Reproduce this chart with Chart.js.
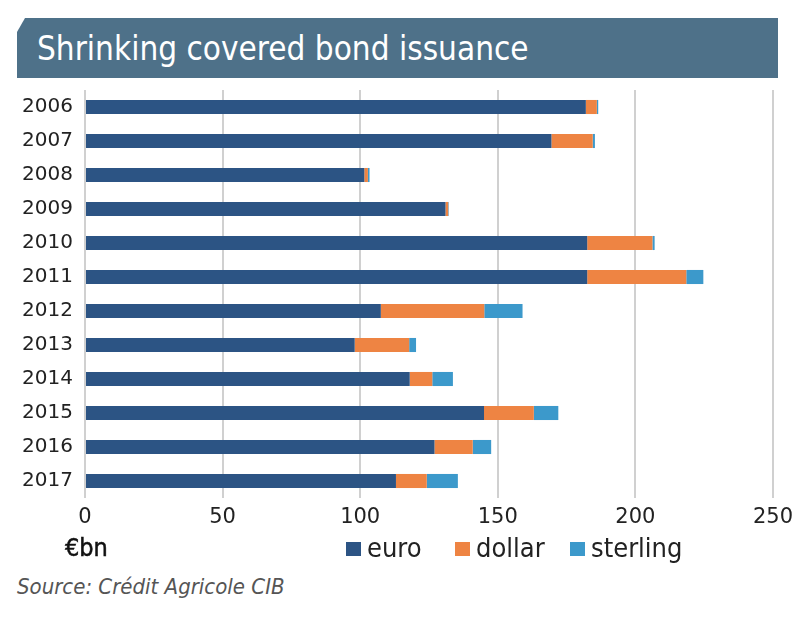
<!DOCTYPE html>
<html>
<head>
<meta charset="utf-8">
<script src="https://cdn.jsdelivr.net/npm/chart.js@4"></script>
<style>
  html, body { margin: 0; padding: 0; background: #fff; }
  body { width: 800px; height: 626px; position: relative; overflow: hidden;
         font-family: 'DejaVu Sans Condensed', 'DejaVu Sans', sans-serif; color: #222; }
  .banner { position: absolute; left: 17px; top: 18px; width: 761px; height: 60px; background: #4e7189;
            clip-path: polygon(8px 0, 100% 0, 100% 100%, 0 100%, 0 14px); }
  .banner span { position: absolute; left: 20px; top: 11px; color: #fff; font-size: 33px; }
  .wrap { position: absolute; left: 0; top: 65px; width: 800px; height: 470px; }
  .unit { position: absolute; left: 65px; top: 533px; font-size: 25px; color: #111; -webkit-text-stroke: 0.5px #111; }
  .legend { position: absolute; top: 532px; font-size: 27px; color: #222; }
  .legend i { display: inline-block; width: 15px; height: 14px; margin-right: 6px; vertical-align: 1px; }
  .src { position: absolute; left: 17px; top: 574px; font-size: 22px; font-style: italic; color: #555; }
</style>
</head>
<body>
<div class="banner"><span>Shrinking covered bond issuance</span></div>
<div class="wrap"><canvas id="c"></canvas></div>
<div class="unit">€bn</div>
<div id="legend"></div>
<div class="src">Source: Crédit Agricole CIB</div>
<script>
const years = ['2006', '2007', '2008', '2009', '2010', '2011', '2012', '2013', '2014', '2015', '2016', '2017'];
const euro = [182, 169.5, 101.5, 131, 182.5, 182.5, 107.5, 98, 118, 145, 127, 113];
const dollar = [4, 15, 1.3, 1, 23.7, 36, 37.6, 19.8, 8.2, 18.1, 13.9, 11.2];
const sterling = [0.5, 0.8, 0.6, 0.2, 0.8, 6.2, 13.9, 2.5, 7.5, 8.9, 6.7, 11.3];
const xTicks = [0, 50, 100, 150, 200, 250];

const seriesNames = ['euro', 'dollar', 'sterling'];
const colors = ['#2c5484', '#ee8443', '#3c99cb'];
const tickFont = "'DejaVu Sans',sans-serif";

// html legend
const legendPos = [346, 455, 570];
document.getElementById('legend').outerHTML = seriesNames.map((n, i) =>
  `<div class="legend" style="left:${legendPos[i]}px"><i style="background:${colors[i]}"></i>${n}</div>`).join('');

new Chart(document.getElementById('c'), {
  type: 'bar',
  data: {
    labels: years,
    datasets: [euro, dollar, sterling].map((d, i) => ({
      label: seriesNames[i], data: d, backgroundColor: colors[i],
      barPercentage: 0.9, categoryPercentage: 0.46
    }))
  },
  options: {
    indexAxis: 'y',
    responsive: true, maintainAspectRatio: false, animation: false,
    layout: { padding: { top: 25, right: 26, left: 0, bottom: 0 } },
    plugins: { legend: { display: false }, tooltip: { enabled: false } },
    scales: {
      x: {
        stacked: true, min: 0, max: 250,
        afterBuildTicks: s => { s.ticks = xTicks.map(v => ({ value: v })); },
        afterFit: s => { s.height = 37; },
        grid: { color: '#d0d0d0', lineWidth: 2, tickLength: 0 },
        border: { display: false },
        ticks: { color: '#222', padding: 7, font: { family: tickFont, size: 21 } }
      },
      y: {
        stacked: true,
        afterFit: s => { s.width = 85; },
        grid: { display: false },
        border: { display: false },
        ticks: { color: '#222', padding: 4, font: { family: tickFont, size: 20 } }
      }
    }
  }
});
</script>
</body>
</html>
